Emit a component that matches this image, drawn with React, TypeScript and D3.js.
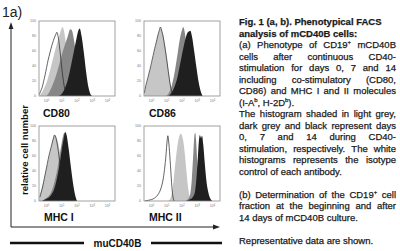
import React, { useEffect } from "react";
import * as d3 from "d3";

// ---------- data ----------
const markers = ["CD80", "CD86", "MHC I", "MHC II"];
const seriesNames = ["isotype", "day 0", "day 7", "day 14"];
const yTickValues = [0, 20, 40, 60, 80, 100];
const xTickExponents = [0, 1, 2, 3, 4];

// [log10 fluorescence, relative cell number %]
const cd80Isotype = [[-0.48, 2], [-0.4, 6], [-0.3, 11], [-0.2, 19], [-0.1, 28], [0, 38], [0.1, 48], [0.2, 56], [0.3, 64], [0.4, 71], [0.5, 77], [0.6, 82], [0.68, 85], [0.76, 79], [0.86, 64], [0.96, 45], [1.06, 27], [1.16, 13], [1.26, 5], [1.36, 1], [1.45, 0]];
const cd80Day0 = [[-0.45, 1], [-0.3, 5], [-0.15, 11], [0, 18], [0.2, 32], [0.4, 48], [0.6, 64], [0.8, 78], [0.95, 88], [1.05, 92], [1.15, 86], [1.3, 65], [1.45, 40], [1.6, 18], [1.75, 5], [1.9, 0]];
const cd80Day7 = [[0.0, 0], [0.2, 6], [0.4, 15], [0.6, 26], [0.8, 40], [1.0, 55], [1.2, 68], [1.4, 80], [1.55, 89], [1.65, 88], [1.8, 75], [1.95, 52], [2.1, 28], [2.25, 10], [2.4, 2], [2.5, 0]];
const cd80Day14 = [[0.8, 0], [1.0, 3], [1.2, 10], [1.4, 22], [1.6, 40], [1.8, 60], [1.95, 75], [2.1, 88], [2.18, 90], [2.3, 80], [2.45, 58], [2.6, 32], [2.75, 12], [2.9, 2], [3.0, 0]];

const cd86Isotype = [[-0.48, 4], [-0.4, 12], [-0.3, 20], [-0.2, 28], [-0.1, 36], [0, 45], [0.1, 54], [0.2, 63], [0.3, 71], [0.4, 80], [0.5, 87], [0.58, 92], [0.65, 88], [0.75, 80], [0.85, 68], [0.95, 55], [1.05, 40], [1.15, 25], [1.25, 12], [1.35, 4], [1.45, 0]];
const cd86Day0 = [[-0.48, 3], [-0.4, 10], [-0.2, 26], [0, 43], [0.2, 61], [0.4, 79], [0.5, 86], [0.6, 90], [0.7, 86], [0.8, 78], [0.9, 66], [1.0, 52], [1.1, 37], [1.2, 22], [1.3, 10], [1.4, 3], [1.5, 0]];
const cd86Day7 = [[0.9, 0], [1.1, 3], [1.3, 12], [1.5, 30], [1.7, 55], [1.85, 75], [2.0, 88], [2.08, 92], [2.18, 85], [2.3, 65], [2.45, 38], [2.6, 15], [2.75, 3], [2.85, 0]];
const cd86Day14 = [[1.1, 0], [1.3, 4], [1.5, 12], [1.7, 25], [1.9, 45], [2.1, 65], [2.25, 78], [2.35, 84], [2.45, 86], [2.55, 87], [2.65, 80], [2.8, 60], [2.95, 38], [3.1, 18], [3.25, 5], [3.35, 0]];

const mhc1Isotype = [[-0.45, 5], [-0.35, 12], [-0.25, 20], [-0.15, 30], [-0.05, 40], [0.05, 50], [0.15, 60], [0.25, 68], [0.35, 76], [0.45, 84], [0.52, 88], [0.6, 85], [0.7, 76], [0.8, 62], [0.9, 45], [1.0, 28], [1.1, 14], [1.2, 5], [1.3, 0]];
const mhc1Day0 = [[-0.48, 3], [-0.4, 10], [-0.2, 26], [0, 44], [0.2, 62], [0.35, 75], [0.45, 84], [0.55, 88], [0.65, 85], [0.75, 78], [0.85, 68], [0.95, 58], [1.05, 48], [1.15, 36], [1.3, 20], [1.45, 8], [1.6, 2], [1.7, 0]];
const mhc1Day7 = [[-0.3, 0], [-0.1, 3], [0.1, 6], [0.3, 12], [0.5, 24], [0.7, 42], [0.85, 60], [1.0, 78], [1.1, 88], [1.17, 91], [1.25, 86], [1.4, 65], [1.55, 38], [1.7, 15], [1.85, 4], [1.95, 0]];
const mhc1Day14 = [[-0.3, 0], [-0.1, 2], [0.1, 4], [0.3, 8], [0.5, 16], [0.7, 32], [0.9, 55], [1.05, 75], [1.15, 86], [1.22, 92], [1.3, 89], [1.45, 70], [1.6, 45], [1.75, 22], [1.9, 6], [2.0, 0]];

const mhc2Isotype = [[-0.45, 0], [-0.2, 1], [0, 2], [0.2, 4], [0.4, 8], [0.6, 16], [0.75, 28], [0.85, 42], [0.95, 62], [1.02, 80], [1.07, 87], [1.12, 80], [1.2, 60], [1.28, 35], [1.35, 15], [1.42, 4], [1.5, 0]];
const mhc2Day0 = [[1.1, 0], [1.25, 4], [1.35, 12], [1.45, 28], [1.55, 48], [1.65, 66], [1.75, 80], [1.85, 88], [1.93, 90], [2.0, 87], [2.1, 78], [2.2, 60], [2.3, 38], [2.4, 18], [2.5, 6], [2.6, 1], [2.7, 0]];
const mhc2Day7 = [[2.2, 0], [2.4, 3], [2.55, 10], [2.65, 30], [2.75, 65], [2.82, 88], [2.87, 91], [2.93, 80], [3.0, 55], [3.1, 30], [3.2, 15], [3.35, 5], [3.5, 0]];
const mhc2Day14 = [[2.3, 0], [2.5, 2], [2.7, 5], [2.85, 12], [2.95, 30], [3.05, 60], [3.12, 82], [3.18, 88], [3.25, 84], [3.32, 87], [3.4, 75], [3.5, 50], [3.6, 28], [3.75, 10], [3.9, 2], [4.0, 0]];

const captionLines = [
  "Fig. 1 (a, b). Phenotypical FACS",
  "analysis of mCD40B cells:",
  "(a) Phenotype of CD19{+} mCD40B",
  "cells after continuous CD40-",
  "stimulation for days 0, 7 and 14",
  "including co-stimulatory (CD80,",
  "CD86) and MHC I and II molecules",
  "(I-A{b}, H-2D{b}).",
  "The histogram shaded in light grey,",
  "dark grey and black represent days",
  "0, 7 and 14 during CD40-",
  "stimulation, respectively. The white",
  "histograms represents the isotype",
  "control of each antibody.",
  "",
  "(b) Determination of the CD19{+} cell",
  "fraction at the beginning and after",
  "14 days of mCD40B culture.",
  "",
  "Representative data are shown.",
];
const captionBold = [true, true];
const captionJustified = [false, false, true, true, true, true, true, false, true, true, true, true, true, false, false, true, true, false, false, false];

// ---------- layout ----------
const W = 400;
const H = 251;
const PW = 76;
const PH = 75;
const panelOrigins = [[39, 21], [144, 21], [39, 126], [144, 126]];
const panelData = [
  [cd80Isotype, cd80Day0, cd80Day7, cd80Day14],
  [cd86Isotype, cd86Day0, cd86Day7, cd86Day14],
  [mhc1Isotype, mhc1Day0, mhc1Day7, mhc1Day14],
  [mhc2Isotype, mhc2Day0, mhc2Day7, mhc2Day14],
];
const fills = ["none", "#c6c6c6", "#878787", "#1f1f1f"];
const FONT = '"Liberation Sans", Arial, sans-serif';

let ctx: CanvasRenderingContext2D | null = null;
function measure(t: string, size: number, bold: boolean) {
  if (!ctx) ctx = document.createElement("canvas").getContext("2d");
  if (!ctx) return t.length * size * 0.5;
  ctx.font = `${bold ? "bold " : ""}${size}px "Liberation Sans"`;
  return ctx.measureText(t).width;
}

type Seg = { t: string; sup: boolean };
function parse(s: string): Seg[] {
  const out: Seg[] = [];
  const re = /\{([^}]*)\}/g;
  let last = 0;
  let m;
  while ((m = re.exec(s))) {
    if (m.index > last) out.push({ t: s.slice(last, m.index), sup: false });
    out.push({ t: m[1], sup: true });
    last = m.index + m[0].length;
  }
  if (last < s.length) out.push({ t: s.slice(last), sup: false });
  return out;
}
function segWidth(segs: Seg[], size: number, bold: boolean) {
  return segs.reduce((a, s) => a + measure(s.t, s.sup ? size * 0.62 : size, bold), 0);
}
function renderSegs(segs: Seg[], size: number) {
  const els: any[] = [];
  let shifted = false;
  segs.forEach((s, i) => {
    if (s.sup) {
      els.push(<tspan key={i} fontSize={size * 0.62} dy={-3.6}>{s.t}</tspan>);
      shifted = true;
    } else {
      els.push(<tspan key={i} dy={shifted ? 3.6 : 0}>{s.t}</tspan>);
      shifted = false;
    }
  });
  return els;
}

function Panel({ idx }: { idx: number }) {
  const [ox, oy] = panelOrigins[idx];
  const x = d3.scaleLinear().domain([-0.5, 4.5]).range([0, PW]);
  const y = d3.scaleLinear().domain([0, 100]).range([PH, 0]);
  const area = d3.area<number[]>().x((d) => x(d[0])).y0(PH).y1((d) => y(d[1])).curve(d3.curveMonotoneX);
  const line = d3.line<number[]>().x((d) => x(d[0])).y((d) => y(d[1])).curve(d3.curveMonotoneX);
  const data = panelData[idx];
  const clipId = `clip${idx}`;
  return (
    <g transform={`translate(${ox},${oy})`}>
      <clipPath id={clipId}><rect x={0} y={0} width={PW} height={PH} /></clipPath>
      <rect x={0} y={0} width={PW} height={PH} fill="#fff" />
      <g clipPath={`url(#${clipId})`}>
        {[1, 2, 3].map((s) => (
          <path key={s} d={area(data[s] as any) || ""} fill={fills[s]} />
        ))}
        <path d={line(data[0] as any) || ""} fill="none" stroke="#222" strokeWidth={0.7} />
      </g>
      <rect x={0} y={0} width={PW} height={PH} fill="none" stroke="#8a8a8a" strokeWidth={0.8} />
      {yTickValues.map((v) => (
        <text key={v} x={-3} y={y(v)} fontSize={3.6} fill="#777" textAnchor="end" dominantBaseline="central" fontFamily={FONT}>{v}</text>
      ))}
      {xTickExponents.map((e) => (
        <text key={e} x={x(e)} y={PH + 6} fontSize={3.6} fill="#777" textAnchor="middle" fontFamily={FONT}>
          10<tspan fontSize={2.6} dy={-1.5}>{e}</tspan>
        </text>
      ))}
    </g>
  );
}

export default function App() {
  useEffect(() => {
    document.body.style.margin = "0";
  }, []);
  const capX = 239;
  const capW = 157;
  const fs = 9.5;
  const lineY = (i: number) => 25 + i * 11.5;
  const labelPos = [[43, 117], [149, 117], [44, 221], [149, 221]];
  return (
    <svg width={W} height={H} style={{ position: "fixed", left: 0, top: 0, background: "#fff" }} fontFamily={FONT}>
      <rect width={W} height={H} fill="#fff" />
      <text x={2} y={17} fontSize={14} fill="#222">1a)</text>
      {markers.map((m, i) => (
        <Panel key={m} idx={i} />
      ))}
      {markers.map((m, i) => (
        <text key={m} x={labelPos[i][0]} y={labelPos[i][1]} fontSize={10.5} fontWeight="bold" fill="#111">{m}</text>
      ))}
      {/* L axis with arrows */}
      <path d="M11,28 V227 H214" fill="none" stroke="#222" strokeWidth={1} />
      <path d="M11,22 L8.6,29 L13.4,29 Z" fill="#222" />
      <path d="M220,227 L213,224.6 L213,229.4 Z" fill="#222" />
      <text transform="translate(24,150) rotate(-90)" textAnchor="middle" dominantBaseline="central" fontSize={9.6} fontWeight="bold" fill="#111">relative cell number</text>
      <line x1={10} x2={84} y1={243} y2={243} stroke="#111" strokeWidth={2.5} />
      <line x1={151} x2={222} y1={243} y2={243} stroke="#111" strokeWidth={2.5} />
      <text x={117.5} y={246.5} textAnchor="middle" fontSize={10} fontWeight="bold" fill="#111">muCD40B</text>
      {/* caption */}
      <g stroke="#1a1a1a" strokeWidth={0.25}>
        {captionLines.map((ln, i) => {
          if (!ln) return null;
          const bold = !!captionBold[i];
          const yy = lineY(i);
          if (!captionJustified[i]) {
            return (
              <text key={i} x={capX} y={yy} fontSize={fs} fontWeight={bold ? "bold" : "normal"} fill="#1a1a1a">
                {renderSegs(parse(ln), fs)}
              </text>
            );
          }
          const words = ln.split(/\s+/).map(parse);
          const widths = words.map((w) => segWidth(w, fs, bold));
          const total = widths.reduce((a, b) => a + b, 0);
          const gap = (capW - total) / (words.length - 1);
          let cx = capX;
          return (
            <g key={i}>
              {words.map((w, k) => {
                const el = (
                  <text key={k} x={cx} y={yy} fontSize={fs} fontWeight={bold ? "bold" : "normal"} fill="#1a1a1a">
                    {renderSegs(w, fs)}
                  </text>
                );
                cx += widths[k] + gap;
                return el;
              })}
            </g>
          );
        })}
      </g>
    </svg>
  );
}
